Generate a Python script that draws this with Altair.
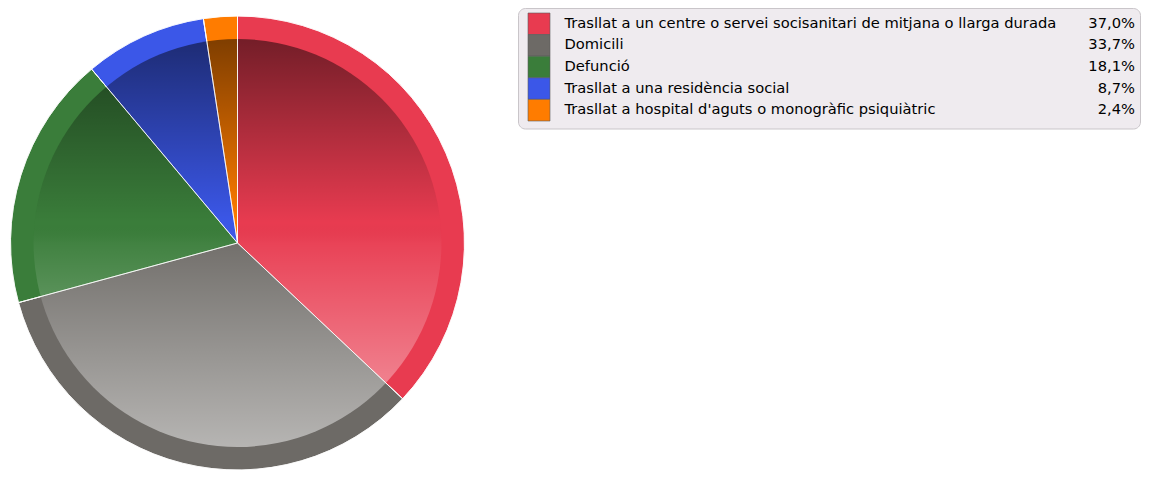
import altair as alt
import pandas as pd

labels = [
    "Trasllat a un centre o servei socisanitari de mitjana o llarga durada",
    "Domicili",
    "Defunció",
    "Trasllat a una residència social",
    "Trasllat a hospital d'aguts o monogràfic psiquiàtric",
]
values = [37.0, 33.7, 18.1, 8.7, 2.4]
pct_labels = ["37,0%", "33,7%", "18,1%", "8,7%", "2,4%"]
colors = ["#e83b50", "#6d6a66", "#3a7d3a", "#3b57e8", "#ff7c00"]

df = pd.DataFrame({
    "label": labels,
    "value": values,
    "pct": pct_labels,
    "idx": list(range(len(labels))),
})

CX, CY = 229.5, 235
R_OUT, R_IN = 227, 204
FONT = "DejaVu Sans"
FS = 14.7

color = alt.Color("label:N", scale=alt.Scale(domain=labels, range=colors), legend=None)
theta = alt.Theta("value:Q", stack=True)
order = alt.Order("idx:Q")

base = alt.Chart(df)

ring = base.mark_arc(stroke="white", strokeWidth=1, strokeOpacity=0.7).encode(
    theta=theta, order=order, color=color,
    x=alt.value(CX), y=alt.value(CY), radius=alt.value(R_OUT),
)
inner = base.mark_arc().encode(
    theta=theta, order=order, color=color,
    x=alt.value(CX), y=alt.value(CY), radius=alt.value(R_IN),
)

shade = alt.Gradient(
    gradient="linear", x1=0, y1=0, x2=0, y2=1,
    stops=[
        alt.GradientStop(color="rgba(0,0,0,0.5)", offset=0),
        alt.GradientStop(color="rgba(0,0,0,0)", offset=0.45),
        alt.GradientStop(color="rgba(255,255,255,0.04)", offset=0.5),
        alt.GradientStop(color="rgba(255,255,255,0.5)", offset=1),
    ],
)
overlay = alt.Chart(pd.DataFrame({"o": [0]})).mark_arc(
    theta=0, theta2=6.2832, fill=shade
).encode(x=alt.value(CX), y=alt.value(CY), radius=alt.value(R_IN))

seps = base.mark_arc(fillOpacity=0, stroke="white", strokeWidth=1, strokeOpacity=0.7).encode(
    theta=theta, order=order,
    x=alt.value(CX), y=alt.value(CY), radius=alt.value(R_OUT),
)

# legend
box = alt.Chart(pd.DataFrame({"o": [0]})).mark_rect(
    fill="#efebef", stroke="#c9c5c9", strokeWidth=1, cornerRadius=7
).encode(x=alt.value(510.5), x2=alt.value(1132.5), y=alt.value(0.5), y2=alt.value(121))

yenc = alt.Y("label:N", scale=alt.Scale(domain=labels, range=[5, 113], paddingInner=0, paddingOuter=0), axis=None)

swatch = base.mark_rect(stroke="#5a5a5a", strokeWidth=0.6).encode(
    y=yenc, color=color, x=alt.value(520), x2=alt.value(542),
)
names = base.mark_text(align="left", baseline="middle", font=FONT, fontSize=FS, color="#000000").encode(
    y=yenc, text="label:N", x=alt.value(556.5),
)
pcts = base.mark_text(align="right", baseline="middle", font=FONT, fontSize=FS, color="#000000").encode(
    y=yenc, text="pct:N", x=alt.value(1127),
)

chart = alt.layer(ring, inner, overlay, seps, box, swatch, names, pcts).properties(
    width=1133, height=462, padding=0, autosize=alt.AutoSizeParams(type="none")
).configure_view(stroke=None)

chart.save("out.html", embed_options={"renderer": "svg", "actions": False})
